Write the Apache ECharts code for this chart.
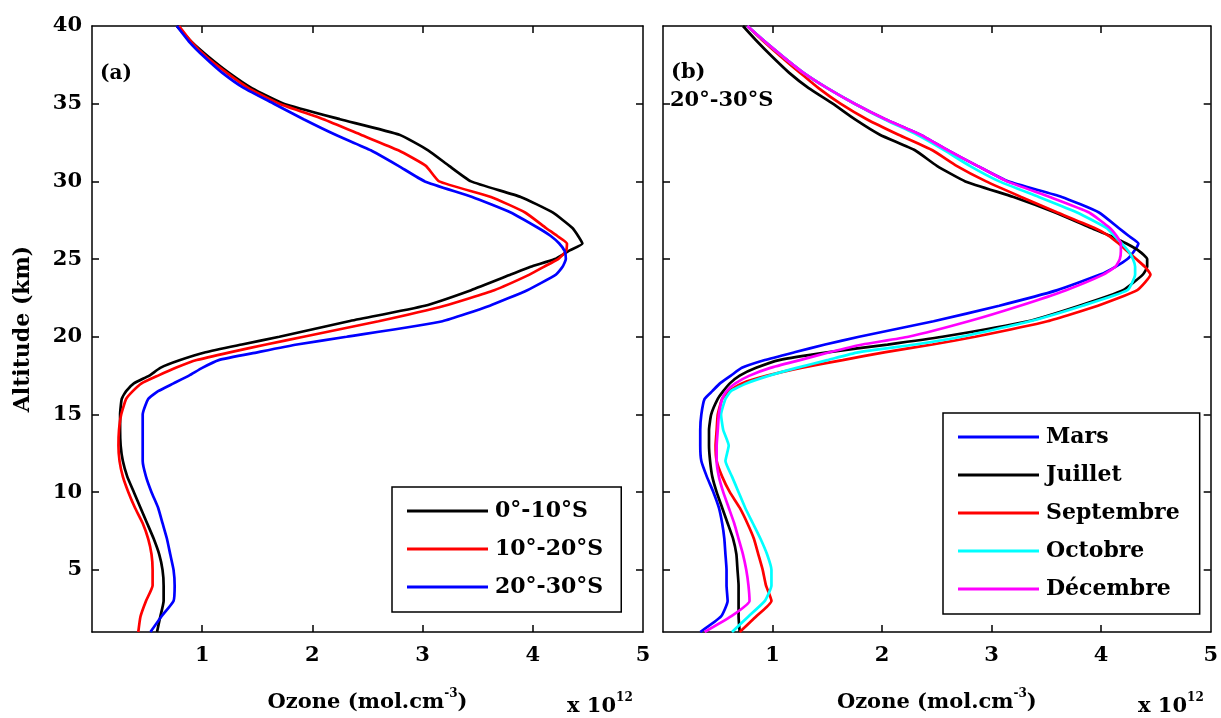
<!DOCTYPE html>
<html>
<head>
<meta charset="utf-8">
<script src="https://cdn.jsdelivr.net/npm/echarts@6/dist/echarts.min.js"></script>
<style>
html,body{margin:0;padding:0;background:#fff;}
#chart{width:1221px;height:718px;}
</style>
</head>
<body>
<div id="chart"></div>
<script>
// Altitude grid (km)
const ALT = [1,2,3,4,5,6,7,8,9,10,11,12,13,14,15,16,16.5,17,17.5,18,18.5,19,19.5,20,21,22,23,24,24.5,25,25.5,26,26.5,27,28,29,30,31,32,33,34,35,36,37,38,39,40];

// Panel (a): ozone (x 10^12 mol.cm-3)
const LAT_0_10 = [0.59,0.62,0.65,0.65,0.64,0.61,0.56,0.50,0.44,0.38,0.32,0.28,0.26,0.255,0.255,0.27,0.31,0.38,0.52,0.62,0.80,1.03,1.36,1.70,2.33,3.02,3.44,3.80,3.98,4.20,4.32,4.45,4.41,4.36,4.18,3.89,3.44,3.24,3.05,2.79,2.25,1.74,1.45,1.24,1.06,0.90,0.77];
const LAT_10_20 = [0.42,0.44,0.49,0.55,0.55,0.54,0.51,0.46,0.39,0.33,0.28,0.25,0.24,0.245,0.265,0.31,0.37,0.45,0.60,0.76,0.95,1.25,1.58,1.92,2.60,3.20,3.65,3.97,4.10,4.23,4.30,4.31,4.22,4.12,3.93,3.62,3.15,3.03,2.78,2.44,2.10,1.70,1.42,1.22,1.04,0.90,0.79];
const LAT_20_30 = [0.53,0.63,0.74,0.75,0.74,0.71,0.68,0.64,0.60,0.54,0.49,0.46,0.46,0.46,0.46,0.51,0.60,0.74,0.88,1.00,1.15,1.50,1.86,2.31,3.18,3.61,3.95,4.21,4.27,4.30,4.29,4.24,4.16,4.05,3.80,3.45,3.02,2.78,2.53,2.21,1.92,1.65,1.38,1.18,1.02,0.88,0.77];

// Panel (b): 20°-30°S by month
const MARS = [0.34,0.53,0.59,0.58,0.58,0.57,0.56,0.54,0.51,0.46,0.40,0.35,0.34,0.34,0.35,0.38,0.45,0.52,0.62,0.72,0.93,1.20,1.48,1.79,2.47,3.07,3.60,3.99,4.13,4.24,4.30,4.34,4.25,4.16,3.98,3.64,3.15,2.87,2.60,2.35,2.03,1.75,1.50,1.28,1.10,0.93,0.77];
const JUILLET = [0.70,0.69,0.69,0.69,0.68,0.67,0.64,0.59,0.54,0.49,0.45,0.43,0.42,0.42,0.44,0.50,0.55,0.61,0.70,0.85,1.06,1.50,2.05,2.55,3.33,3.80,4.20,4.38,4.42,4.42,4.35,4.23,4.08,3.91,3.58,3.20,2.76,2.50,2.30,1.98,1.75,1.55,1.33,1.15,1.00,0.86,0.73];
const SEPTEMBRE = [0.70,0.85,0.99,0.94,0.91,0.87,0.83,0.77,0.70,0.61,0.54,0.49,0.48,0.49,0.50,0.54,0.60,0.72,0.95,1.26,1.64,2.02,2.46,2.85,3.51,3.97,4.33,4.45,4.40,4.32,4.24,4.16,4.07,3.94,3.60,3.27,2.95,2.68,2.46,2.15,1.86,1.62,1.42,1.25,1.08,0.92,0.77];
const OCTOBRE = [0.63,0.78,0.93,0.99,0.99,0.95,0.89,0.82,0.75,0.69,0.63,0.57,0.60,0.55,0.53,0.57,0.62,0.76,0.97,1.22,1.50,1.78,2.30,2.72,3.35,3.83,4.24,4.31,4.31,4.29,4.25,4.19,4.12,4.05,3.78,3.43,3.07,2.80,2.57,2.32,2.02,1.75,1.50,1.28,1.10,0.93,0.77];
const DECEMBRE = [0.38,0.62,0.79,0.78,0.76,0.73,0.69,0.65,0.60,0.55,0.51,0.49,0.49,0.50,0.51,0.54,0.58,0.66,0.79,0.98,1.25,1.52,1.82,2.24,2.79,3.26,3.68,4.02,4.13,4.17,4.18,4.18,4.14,4.08,3.89,3.53,3.14,2.87,2.60,2.35,2.03,1.75,1.50,1.28,1.10,0.93,0.77];

const X_TICKS = [1,2,3,4];
const X_LABELS = [1,2,3,4,5];
const Y_TICKS = [5,10,15,20,25,30,35];
const Y_LABELS = [5,10,15,20,25,30,35,40];

const LEFT_SERIES = [
  {name:'0°-10°S', data:LAT_0_10, color:'#000000'},
  {name:'10°-20°S', data:LAT_10_20, color:'#ff0000'},
  {name:'20°-30°S', data:LAT_20_30, color:'#0000ff'}
];
const RIGHT_SERIES = [
  {name:'Mars', data:MARS, color:'#0000ff'},
  {name:'Juillet', data:JUILLET, color:'#000000'},
  {name:'Septembre', data:SEPTEMBRE, color:'#ff0000'},
  {name:'Octobre', data:OCTOBRE, color:'#00ffff'},
  {name:'Décembre', data:DECEMBRE, color:'#ff00ff'}
];

const FONT = 'DejaVu Serif';
const lineSty = {color:'#000', width:1.5};
const SUP_RICH = {
  m:{fontFamily:FONT, fontWeight:'bold', fontSize:21, color:'#000', verticalAlign:'bottom'},
  s:{fontFamily:FONT, fontWeight:'bold', fontSize:12, color:'#000', verticalAlign:'bottom', padding:[0,0,13,0]}
};

function xAxis(grid, pos, labels) {
  const a = {
    type:'value', gridIndex:grid, position:pos, min:0, max:5,
    axisLine:{show:true, onZero:false, lineStyle:lineSty},
    axisTick:{show:true, inside:true, length:7, customValues:X_TICKS, lineStyle:lineSty},
    axisLabel:{show:labels, customValues:X_LABELS, margin:13, color:'#000', fontFamily:FONT, fontWeight:'bold', fontSize:21},
    splitLine:{show:false}
  };
  if (labels) {
    a.name = '{m|Ozone (mol.cm}{s|-3}{m|)}';
    a.nameLocation = 'middle';
    a.nameGap = 56;
    a.nameTextStyle = {color:'#000', fontFamily:FONT, fontWeight:'bold', fontSize:21, rich:SUP_RICH};
  }
  return a;
}
function yAxis(grid, pos, labels, named) {
  const a = {
    type:'value', gridIndex:grid, position:pos, min:1, max:40,
    axisLine:{show:true, onZero:false, lineStyle:lineSty},
    axisTick:{show:true, inside:true, length:7, customValues:Y_TICKS, lineStyle:lineSty},
    axisLabel:{show:labels, customValues:Y_LABELS, margin:10, color:'#000', fontFamily:FONT, fontWeight:'bold', fontSize:21},
    splitLine:{show:false}
  };
  if (named) {
    a.name = 'Altitude (km)';
    a.nameLocation = 'middle';
    a.nameRotate = 90;
    a.nameGap = 58;
    a.nameTextStyle = {color:'#000', fontFamily:FONT, fontWeight:'bold', fontSize:22};
  }
  return a;
}

function mkSeries(list, xi, yi) {
  return list.map(s => ({
    type:'line', name:s.name, xAxisIndex:xi, yAxisIndex:yi,
    data: ALT.map((h,i) => [s.data[i], h]),
    showSymbol:false, smooth:0.15, animation:false,
    lineStyle:{color:s.color, width:2.7}, itemStyle:{color:s.color}
  }));
}

const legendBase = {
  orient:'vertical', icon:'rect', itemWidth:81, itemHeight:3, itemGap:12,
  borderColor:'#000', borderWidth:1.5, borderRadius:0, backgroundColor:'#fff',
  selectedMode:false,
  textStyle:{fontFamily:FONT, fontWeight:'bold', fontSize:22, color:'#000', lineHeight:26, padding:[0,0,0,2]}
};

function expo(left) {
  return {type:'text', left:left, top:692, style:{text:'{m|x 10}{s|12}', rich:SUP_RICH, fill:'#000'}};
}

const option = {
  animation:false,
  backgroundColor:'#fff',
  grid:[
    {left:92, top:26, width:551, height:606},
    {left:663, top:26, width:549, height:606}
  ],
  xAxis:[xAxis(0,'bottom',true), xAxis(0,'top',false), xAxis(1,'bottom',true), xAxis(1,'top',false)],
  yAxis:[yAxis(0,'left',true,true), yAxis(0,'right',false,false), yAxis(1,'left',false,false), yAxis(1,'right',false,false)],
  legend:[
    Object.assign({}, legendBase, {left:392, top:487, padding:[11,18,12,15], data:LEFT_SERIES.map(s=>s.name)}),
    Object.assign({}, legendBase, {left:943, top:413, padding:[11,20,12,15], data:RIGHT_SERIES.map(s=>s.name)})
  ],
  graphic:[
    {type:'text', left:100, top:64, style:{text:'(a)', font:'bold 20px "DejaVu Serif"', fill:'#000'}},
    {type:'text', left:671, top:62, style:{text:'(b)', font:'bold 21px "DejaVu Serif"', fill:'#000'}},
    {type:'text', left:670, top:90, style:{text:'20°-30°S', font:'bold 21px "DejaVu Serif"', fill:'#000'}},
    expo(567),
    expo(1138)
  ],
  series: mkSeries(LEFT_SERIES, 0, 0).concat(mkSeries(RIGHT_SERIES, 2, 2))
};

const chart = echarts.init(document.getElementById('chart'), null, {renderer:'canvas'});
chart.setOption(option);
</script>
</body>
</html>
